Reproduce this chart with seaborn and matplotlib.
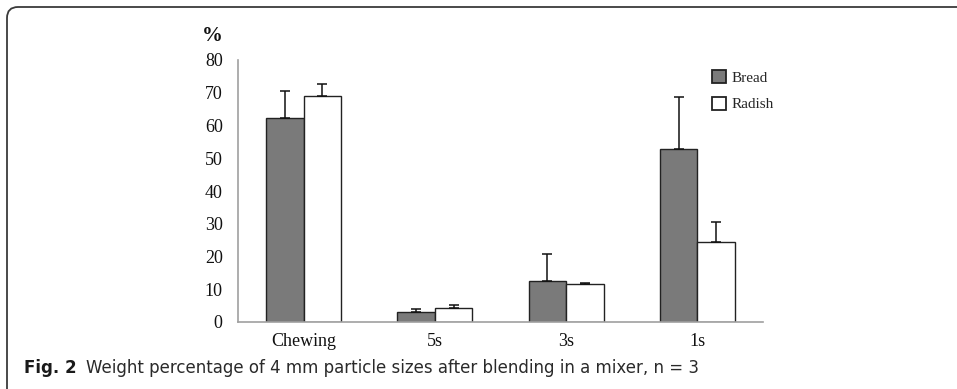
import matplotlib
matplotlib.use("Agg")
import matplotlib.pyplot as plt
from matplotlib import font_manager
from matplotlib.patches import FancyBboxPatch, Patch
from matplotlib.transforms import IdentityTransform
import numpy as np
import pandas as pd
import seaborn as sns

# Blending conditions and measured weight percentages (mean and SD, n = 3)
categories = ["Chewing", "5s", "3s", "1s"]
series_names = ["Bread", "Radish"]
bread_mean = [62.3, 3.0, 12.4, 52.7]
bread_sd = [8.3, 0.9, 8.3, 15.9]
radish_mean = [69.1, 4.2, 11.6, 24.5]
radish_sd = [3.5, 1.1, 0.3, 5.9]
y_ticks = [0, 10, 20, 30, 40, 50, 60, 70, 80]

df = pd.DataFrame({
    "condition": categories * 2,
    "sample": [series_names[0]] * 4 + [series_names[1]] * 4,
    "value": bread_mean + radish_mean,
})

sns.set_theme(style="white")
available = {f.name for f in font_manager.fontManager.ttflist}
serif = "Liberation Serif" if "Liberation Serif" in available else "DejaVu Serif"
cap_font = "DejaVu Sans"
plt.rcParams["font.family"] = [serif, "DejaVu Sans"]

W, H = 957, 389
fig = plt.figure(figsize=(W / 100, H / 100), dpi=100)
ax = fig.add_axes([238 / W, 1 - 322 / H, (763 - 238) / W, (322 - 60) / H])

palette = {"Bread": "#7a7a7a", "Radish": "#ffffff"}
sns.barplot(data=df, x="condition", y="value", hue="sample", order=categories,
            hue_order=series_names, palette=palette, width=0.57, gap=0,
            errorbar=None, edgecolor="#222222", linewidth=1.0, legend=False, ax=ax)

# one-sided (upper) SD error bars
for cont, means, sds in zip(ax.containers, [bread_mean, radish_mean], [bread_sd, radish_sd]):
    xs = [p.get_x() + p.get_width() / 2 for p in cont.patches]
    ax.errorbar(xs, means, yerr=[np.zeros(len(sds)), sds], fmt="none",
                ecolor="#111111", elinewidth=1.1, capsize=3.5, capthick=1.1, zorder=3)

ax.set_xlim(-0.5, 3.5)
ax.set_ylim(0, 80)
ax.set_yticks(y_ticks)
ax.set_yticklabels([str(t) for t in y_ticks], fontsize=13, color="#111111")
ax.set_xticks(range(len(categories)))
ax.set_xticklabels(categories, fontsize=13, color="#111111")
ax.set_xlabel("")
ax.set_ylabel("")

# category separators on the category axis
ax.set_xticks(np.arange(-0.5, 4.0, 1.0), minor=True)
ax.tick_params(axis="x", which="major", length=0, pad=8)
ax.tick_params(axis="x", which="minor", length=5, width=1.0, color="#a0a0a0", direction="out")
ax.tick_params(axis="y", which="major", length=5, width=1.0, color="#a0a0a0", direction="out", pad=6)

for side in ["top", "right"]:
    ax.spines[side].set_visible(False)
for side in ["left", "bottom"]:
    ax.spines[side].set_color("#a0a0a0")
    ax.spines[side].set_linewidth(1.2)

fig.text(202 / W, 1 - 36 / H, "%", fontsize=15, fontweight="bold", color="#111111",
         ha="left", va="center")

handles = [Patch(facecolor=palette[s], edgecolor="#222222", linewidth=1.3) for s in series_names]
fig.legend(handles, series_names, loc="upper left", bbox_to_anchor=(712 / W, 1 - 70 / H),
           frameon=False, fontsize=11, handlelength=0.9, handleheight=0.9,
           handletextpad=0.4, labelspacing=0.8, borderpad=0, borderaxespad=0)

# caption
t1 = fig.text(24 / W, 1 - 368 / H, "Fig. 2", fontsize=12, fontweight="bold",
              family=cap_font, color="#1a1a1a", ha="left", va="center")
fig.canvas.draw()
bb = t1.get_window_extent()
fig.text((bb.x1 + 9) / W, 1 - 368 / H,
         "Weight percentage of 4 mm particle sizes after blending in a mixer, n = 3",
         fontsize=12, family=cap_font, color="#2a2a2a", ha="left", va="center")

# panel frame with rounded top-left corner (pixel coordinates)
frame = FancyBboxPatch((7, -60), 1100, H - 7 + 60,
                       boxstyle="round,pad=0,rounding_size=11",
                       transform=IdentityTransform(), facecolor="none",
                       edgecolor="#3a3a3a", linewidth=1.3)
fig.patches.append(frame)

fig.savefig("out.png", dpi=100)
